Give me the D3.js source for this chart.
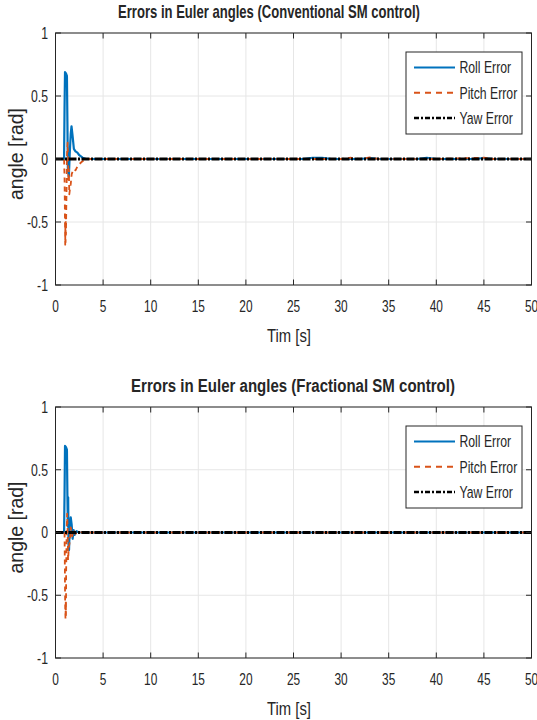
<!DOCTYPE html>
<html>
<head>
<meta charset="utf-8">
<script src="https://cdn.jsdelivr.net/npm/d3@7"></script>
<style>
  body { margin: 0; background: #fff; }
  svg { display: block; }
  text { font-family: "Liberation Sans", Arial, sans-serif; fill: #262626; }
</style>
</head>
<body>
<svg id="chart" width="537" height="720"></svg>
<script>
// ---- data ----
var xTicks = [0, 5, 10, 15, 20, 25, 30, 35, 40, 45, 50];
var yTicks = [-1, -0.5, 0, 0.5, 1];
var seriesNames = ["Roll Error", "Pitch Error", "Yaw Error"];

// top panel: conventional SM
var convRollT = [0, 0.9, 0.95, 1.0, 1.1, 1.2, 1.25, 1.3, 1.4, 1.5, 1.6, 1.68, 1.8, 1.93, 2.1, 2.3, 2.5, 2.85, 3.2, 10, 20, 26, 27, 28, 29, 32, 33, 34, 38, 39, 40, 44, 45, 46, 50];
var convRollV = [0, 0, 0.4, 0.69, 0.68, 0.66, 0.3, -0.08, -0.14, 0.05, 0.2, 0.26, 0.18, 0.08, 0.06, 0.05, 0.03, 0.01, 0, 0, 0, 0, 0.01, 0.01, 0, 0, 0.008, 0, 0, 0.01, 0, 0, 0.008, 0, 0];
var convPitchT = [0, 0.9, 0.95, 0.98, 1.0, 1.02, 1.04, 1.06, 1.08, 1.1, 1.13, 1.17, 1.2, 1.27, 1.32, 1.36, 1.4, 1.45, 1.5, 1.6, 1.7, 1.8, 1.95, 2.1, 2.3, 2.5, 2.8, 3.2, 10, 20, 30, 31, 32, 33, 34, 35, 40, 45, 46, 50];
var convPitchV = [0, 0, -0.15, -0.35, -0.55, -0.68, -0.5, -0.66, -0.45, -0.6, -0.4, -0.2, 0.02, 0.13, 0.0, -0.18, -0.08, -0.28, -0.25, -0.2, -0.12, -0.1, -0.08, -0.09, -0.06, -0.04, -0.02, 0, 0, 0, 0, 0.01, 0, 0.012, 0, 0, 0, 0.01, 0, 0];
var convYawT = [0, 50];
var convYawV = [0, 0];

// bottom panel: fractional SM
var fracRollT = [0, 0.9, 0.95, 1.0, 1.1, 1.2, 1.25, 1.3, 1.33, 1.37, 1.42, 1.5, 1.6, 1.7, 1.8, 1.9, 2.0, 2.2, 2.5, 3, 50];
var fracRollV = [0, 0, 0.3, 0.69, 0.68, 0.66, 0.3, 0.05, 0.28, -0.1, -0.14, 0.05, 0.12, 0.06, -0.05, 0.02, -0.02, 0.01, 0, 0, 0];
var fracPitchT = [0, 0.95, 0.98, 1.0, 1.02, 1.05, 1.08, 1.1, 1.12, 1.17, 1.22, 1.27, 1.32, 1.4, 1.5, 1.6, 1.75, 1.9, 2.1, 2.4, 2.8, 50];
var fracPitchV = [0, 0, -0.25, -0.45, -0.6, -0.69, -0.55, -0.66, -0.3, 0.0, 0.15, 0.05, -0.22, -0.12, -0.07, 0.04, -0.03, 0.02, -0.01, 0.005, 0, 0];
var fracYawT = [0, 50];
var fracYawV = [0, 0];

var colors = ["#0072BD", "#D95319", "#000000"];
var widths = [2.2, 1.8, 3];
var dashes = [null, "5,4", "8,1.5,2,1.5"];
var legendDashes = [null, "6,5", "5,2,2,2"];

var svg = d3.select("#chart");

function zip(t, v) {
  return t.map(function(d, i) { return [d, v[i]]; });
}

// text with horizontal squeeze (sx fixed, or fitted to a target width)
function label(g, x, y, str, opts) {
  var t = g.append("text")
      .attr("x", x).attr("y", y)
      .attr("text-anchor", opts.anchor || "start")
      .style("font-size", opts.size + "px")
      .text(str);
  if (opts.bold) t.style("font-weight", "bold");
  var sx = opts.sx;
  if (opts.width) sx = opts.width / t.node().getComputedTextLength();
  if (sx) t.attr("transform", "translate(" + x + "," + y + ") scale(" + sx + ",1) translate(" + (-x) + "," + (-y) + ")");
  return t;
}

function drawPanel(p) {
  var x = d3.scaleLinear().domain([0, 50]).range([55.5, 531.5]);
  var y = d3.scaleLinear().domain([-1, 1]).range([p.bottom, p.top]);
  var g = svg.append("g");

  // grid
  g.selectAll(".gx").data(xTicks).enter().append("line")
      .attr("x1", d => x(d)).attr("x2", d => x(d))
      .attr("y1", p.top).attr("y2", p.bottom)
      .attr("stroke", "#e6e6e6").attr("stroke-width", 1);
  g.selectAll(".gy").data(yTicks).enter().append("line")
      .attr("x1", x(0)).attr("x2", x(50))
      .attr("y1", d => y(d)).attr("y2", d => y(d))
      .attr("stroke", "#e6e6e6").attr("stroke-width", 1);

  // clip for lines
  var clipId = "clip-" + p.id;
  svg.append("clipPath").attr("id", clipId).append("rect")
      .attr("x", x(0)).attr("y", p.top).attr("width", x(50) - x(0)).attr("height", p.bottom - p.top);

  var line = d3.line().x(d => x(d[0])).y(d => y(d[1]));
  var lg = g.append("g").attr("clip-path", "url(#" + clipId + ")");
  p.series.forEach(function(s, i) {
    lg.append("path")
        .attr("d", line(s))
        .attr("fill", "none")
        .attr("stroke", colors[i])
        .attr("stroke-width", widths[i])
        .attr("stroke-linejoin", "round")
        .attr("stroke-dasharray", dashes[i]);
  });

  // axes box with inward ticks
  var tl = 5.5;
  var ax = g.append("g").attr("stroke", "#262626").attr("stroke-width", 1).attr("fill", "none");
  ax.append("rect").attr("x", x(0)).attr("y", p.top).attr("width", x(50) - x(0)).attr("height", p.bottom - p.top);
  xTicks.forEach(function(d) {
    ax.append("line").attr("x1", x(d)).attr("x2", x(d)).attr("y1", p.bottom).attr("y2", p.bottom - tl);
    ax.append("line").attr("x1", x(d)).attr("x2", x(d)).attr("y1", p.top).attr("y2", p.top + tl);
  });
  yTicks.forEach(function(d) {
    ax.append("line").attr("x1", x(0)).attr("x2", x(0) + tl).attr("y1", y(d)).attr("y2", y(d));
    ax.append("line").attr("x1", x(50)).attr("x2", x(50) - tl).attr("y1", y(d)).attr("y2", y(d));
  });

  // tick labels
  xTicks.forEach(function(d) {
    label(g, x(d), p.bottom + 27, d3.format("d")(d), { size: 17, anchor: "middle", sx: 0.7 });
  });
  yTicks.forEach(function(d) {
    label(g, 48, y(d) + 6, d === 0 ? "0" : String(d), { size: 17, anchor: "end", sx: 0.72 });
  });

  // titles
  label(g, p.titleX, p.top - 14.5, p.title, { size: 18, bold: true, anchor: "middle", width: p.titleLen });
  label(g, 289, p.bottom + 57, "Tim [s]", { size: 19, anchor: "middle", width: 44 });
  var cy = (p.top + p.bottom) / 2 - 5;
  g.append("text")
      .attr("transform", "translate(23," + cy + ") rotate(-90)")
      .attr("text-anchor", "middle")
      .style("font-size", "19.5px")
      .attr("textLength", 92).attr("lengthAdjust", "spacingAndGlyphs")
      .text("angle [rad]");

  // legend
  var lx = 406, ly = p.top + 19, lw = 116, lh = 82;
  var leg = g.append("g");
  leg.append("rect").attr("x", lx).attr("y", ly).attr("width", lw).attr("height", lh)
      .attr("fill", "#fff").attr("stroke", "#262626").attr("stroke-width", 1);
  seriesNames.forEach(function(n, i) {
    var ry = ly + 15.5 + i * 25.2;
    leg.append("line").attr("x1", lx + 8).attr("x2", lx + 49).attr("y1", ry).attr("y2", ry)
        .attr("stroke", colors[i]).attr("stroke-width", i === 2 ? 2.5 : 2)
        .attr("stroke-dasharray", legendDashes[i]);
    label(leg, lx + 53.5, ry + 6, n, { size: 17, sx: 0.72 });
  });
}

drawPanel({
  id: "top", top: 33, bottom: 285,
  title: "Errors in Euler angles (Conventional SM control)", titleX: 269, titleLen: 302,
  series: [zip(convRollT, convRollV), zip(convPitchT, convPitchV), zip(convYawT, convYawV)]
});
drawPanel({
  id: "bottom", top: 407, bottom: 658,
  title: "Errors in Euler angles (Fractional SM control)", titleX: 293, titleLen: 324,
  series: [zip(fracRollT, fracRollV), zip(fracPitchT, fracPitchV), zip(fracYawT, fracYawV)]
});
</script>
</body>
</html>
